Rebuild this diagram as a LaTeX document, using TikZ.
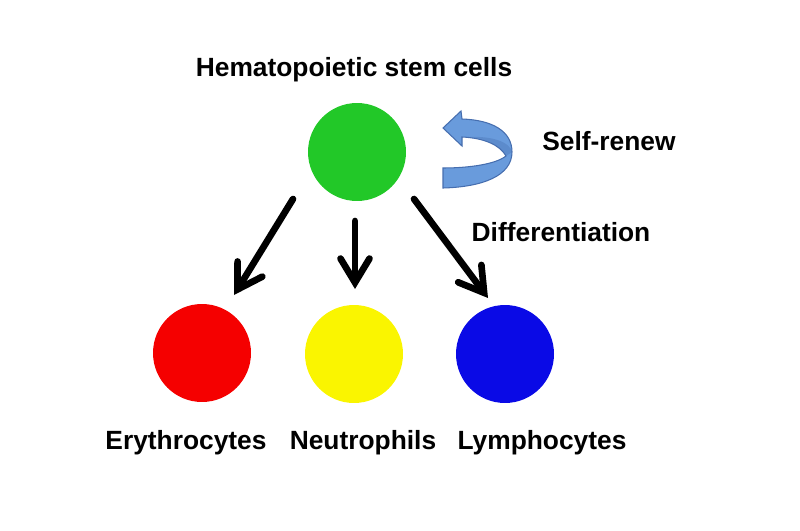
\documentclass[tikz,border=0pt]{standalone}
\usepackage{fontspec}
\setmainfont{Liberation Sans}
\usetikzlibrary{arrows.meta}
\usetikzlibrary{calc}

\definecolor{hscgreen}{RGB}{34,200,40}
\definecolor{eryred}{RGB}{245,0,0}
\definecolor{neuyellow}{RGB}{250,245,0}
\definecolor{lymblue}{RGB}{10,10,230}
\definecolor{renewblue}{RGB}{105,155,220}
\definecolor{renewedge}{RGB}{70,110,175}

\tikzset{
  cell/.style={circle, minimum size=1.96cm, inner sep=0pt},
  lbl/.style={font=\fontsize{15}{18}\selectfont\bfseries, inner sep=0pt},
  diff/.style={line width=3.8pt, line cap=round,
    -{Straight Barb[length=4.8mm,width=5.8mm,line cap=round]}},
}

\begin{document}
\begin{tikzpicture}[x=0.02cm,y=-0.02cm]
      \useasboundingbox (0,0) rectangle (800,530);

      % cells
      \node[cell, fill=hscgreen] (hsc) at (357,152) {};
      \node[cell, fill=eryred] (ery) at (202,353) {};
      \node[cell, fill=neuyellow] (neu) at (354,354) {};
      \node[cell, fill=lymblue] (lym) at (505,354) {};

      % labels
      \node[lbl] (hsclbl) at (354,70) {Hematopoietic stem cells};
      \node[lbl] (renewlbl) at (609,141) {Self-renew};
      \node[lbl] (difflbl) at (561,232) {Differentiation};
      \node[lbl] (erylbl) at (186,443) {Erythrocytes};
      \node[lbl] (neulbl) at (363,443) {Neutrophils};
      \node[lbl] (lymlbl) at (542,443) {Lymphocytes};

      % differentiation arrows
      \coordinate (erys) at (293,199);
      \coordinate (erye) at (234,295);
      \coordinate (neus) at (355,221);
      \coordinate (neue) at (355,289);
      \coordinate (lyms) at (414,199);
      \coordinate (lyme) at (488,298);
      \draw[diff] (erys) -- (erye);
      \draw[diff] (neus) -- (neue);
      \draw[diff] (lyms) -- (lyme);

      % self-renew arrow
      \fill[renewblue, draw=renewedge, line width=0.6pt]
        (443,188) .. controls (482,187) and (512,176) .. (512,152)
        .. controls (512,131) and (492,120) .. (462,119)
        -- (461,111) -- (443,128) -- (462,146) -- (462,137)
        .. controls (484,138) and (500,145) .. (506,156)
        .. controls (496,164) and (470,168) .. (443,168) -- cycle;
      \fill[renewedge, opacity=0.35]
        (506,156) .. controls (500,145) and (484,138) .. (470,137)
        .. controls (492,136) and (510,142) .. (512,152) -- cycle;
    \end{tikzpicture}
\end{document}
